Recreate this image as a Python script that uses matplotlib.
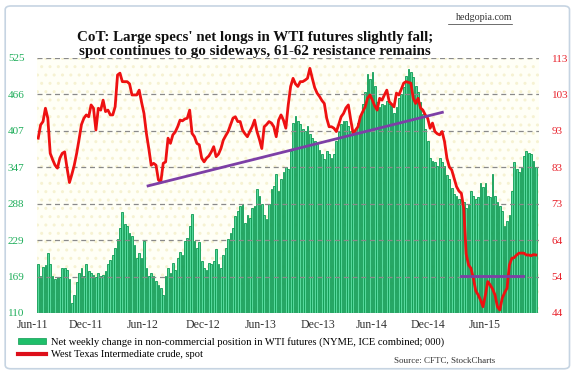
import numpy as np
import pandas as pd
import matplotlib
matplotlib.use("Agg")
import matplotlib.pyplot as plt
from matplotlib.patches import Patch, FancyBboxPatch, Rectangle
from matplotlib.lines import Line2D

# weekly CoT data, late Jun-2011 .. early Jun-2015
weeks = pd.date_range("2011-06-28", periods=208, freq="W-TUE")

# net non-commercial longs in WTI futures (000)
net_longs = [
    190, 171, 185, 188, 207, 190, 171, 165, 168, 168,
    183, 183, 180, 165, 126, 140, 160, 175, 183, 170,
    189, 178, 175, 172, 168, 175, 170, 172, 178, 190,
    197, 205, 215, 230, 249, 275, 255, 251, 240, 235,
    220, 200, 208, 200, 227, 183, 170, 175, 171, 162,
    156, 150, 140, 170, 183, 175, 192, 180, 200, 210,
    205, 227, 232, 251, 271, 227, 216, 225, 194, 183,
    180, 192, 190, 194, 214, 190, 183, 205, 216, 230,
    240, 249, 268, 276, 284, 287, 257, 270, 265, 281,
    284, 311, 300, 287, 270, 263, 287, 311, 317, 336,
    309, 328, 340, 347, 344, 374, 420, 431, 423, 417,
    410, 406, 414, 401, 395, 390, 385, 375, 368, 360,
    374, 368, 363, 368, 390, 405, 417, 423, 423, 415,
    406, 401, 406, 420, 434, 450, 470, 499, 491, 502,
    480, 453, 445, 450, 448, 455, 450, 448, 436, 445,
    460, 466, 477, 496, 507, 502, 494, 480, 470, 453,
    434, 410, 390, 363, 358, 355, 349, 363, 355, 349,
    335, 328, 314, 303, 300, 295, 295, 290, 281, 287,
    309, 300, 295, 298, 322, 315, 322, 300, 298, 336,
    300, 290, 284, 276, 251, 260, 270, 309, 355, 344,
    340, 347, 366, 374, 370, 368, 358, 347,
]

# WTI crude spot ($)
wti_spot = [
    91.3, 94.9, 95.8, 99.4, 96.7, 87.2, 85.5, 84.0, 83.2, 85.9,
    87.2, 87.6, 83.2, 79.3, 81.5, 84.0, 87.2, 91.0, 95.0, 96.7,
    97.6, 97.1, 100.3, 99.4, 93.5, 99.4, 98.9, 101.6, 98.5, 98.9,
    97.6, 97.6, 99.8, 108.4, 108.9, 106.6, 106.6, 106.6, 106.0, 103.0,
    103.0, 103.0, 104.3, 101.0, 98.0, 92.6, 88.5, 84.0, 84.5, 84.0,
    80.0, 79.5, 84.5, 84.9, 91.3, 89.9, 92.2, 93.0, 94.4, 96.2,
    96.0, 96.5, 96.7, 98.9, 92.6, 91.7, 89.9, 89.5, 85.9, 84.9,
    85.9, 86.5, 87.6, 89.0, 86.3, 87.0, 88.5, 90.8, 92.0, 93.1,
    94.9, 96.7, 97.1, 95.8, 95.8, 93.5, 92.5, 91.7, 93.1, 94.4,
    96.2, 93.1, 91.0, 88.5, 94.4, 95.0, 95.8, 95.4, 94.4, 91.7,
    96.2, 97.6, 96.2, 94.0, 100.3, 105.3, 107.5, 106.0, 105.3, 106.6,
    106.6, 107.0, 107.5, 110.2, 107.5, 105.0, 103.5, 102.6, 101.5, 100.7,
    96.7, 94.4, 94.4, 94.0, 93.1, 95.0, 97.1, 98.0, 99.5, 100.3,
    96.2, 92.6, 93.5, 94.4, 97.1, 98.5, 99.8, 102.1, 103.0, 101.6,
    100.0, 98.9, 102.1, 101.6, 103.0, 104.3, 101.2, 100.5, 99.8, 103.5,
    103.0, 104.5, 106.2, 106.6, 106.4, 106.2, 102.1, 100.7, 102.1, 99.5,
    98.9, 97.6, 96.7, 94.0, 95.4, 93.1, 92.5, 92.2, 93.1, 90.4,
    85.9, 83.5, 82.7, 80.4, 78.2, 77.0, 76.4, 72.3, 60.0, 57.0,
    56.1, 53.4, 50.0, 48.9, 47.5, 45.7, 48.9, 52.5, 51.6, 50.5,
    48.9, 45.7, 44.8, 48.0, 49.5, 50.7, 57.0, 58.8, 59.0, 59.7,
    60.2, 60.2, 60.2, 59.7, 59.7, 59.5, 59.8, 59.7,
]

# hand-drawn trend lines (week index, price)
support_weeks = [45.7, 168.1]
support_price = [78.4, 98.3]
resist_weeks = [176.0, 201.7]
resist_price = [54.0, 54.0]

left_ticks = ["110", "169", "229", "288", "347", "407", "466", "525"]
right_ticks = ["44", "54", "64", "73", "83", "93", "103", "113"]
x_labels = ["Jun-11", "Dec-11", "Jun-12", "Dec-12", "Jun-13",
            "Dec-13", "Jun-14", "Dec-14", "Jun-15"]
x_label_pos = [-2.2, 20.0, 43.5, 68.5, 92.5, 116.3, 138.8, 162.0, 185.8]

serif = ["Liberation Serif", "DejaVu Serif"]
green_txt = "#1fae5b"
red_txt = "#e8202a"

fig = plt.figure(figsize=(5.77, 3.74), dpi=100)
fig.patch.set_facecolor("white")
fig.patches.append(FancyBboxPatch((0.009, 0.014), 0.978, 0.97,
                                  boxstyle="round,pad=0,rounding_size=0.01",
                                  transform=fig.transFigure, fill=False,
                                  edgecolor="#c6d4e2", linewidth=1.2))

ax = fig.add_axes([37 / 577, 61 / 374, 502 / 577, 255 / 374])
ax.set_facecolor("#fffff6")
ax.add_patch(Rectangle((0, 0), 1, 1, transform=ax.transAxes, facecolor="none",
                       hatch="..", edgecolor="#f6f2d2", linewidth=0, zorder=0))

x = np.arange(len(weeks))
ax.bar(x, np.array(net_longs) - 110, bottom=110, width=0.72,
       color="#56d89c", edgecolor="#0d9a52", linewidth=0.6, zorder=1)
ax.set_xlim(-0.5, 208.3)
ax.set_ylim(110, 525)
ax.set_yticks(np.linspace(110, 525, 8))
ax.set_yticklabels(left_ticks, family=serif, fontsize=8, color=green_txt)
ax.set_xticks([])
ax.tick_params(axis="y", length=0, pad=9)
ax.set_axisbelow(False)
ax.yaxis.grid(True, color="#8a8a8a", linestyle=(0, (4, 3)), linewidth=0.9)
for s in ax.spines.values():
    s.set_visible(False)

for pos, lab in zip(x_label_pos, x_labels):
    ax.text(pos, -0.025, lab, transform=ax.get_xaxis_transform(),
            ha="center", va="top", family=serif, fontsize=8.5, color="#333333",
            clip_on=False)

ax2 = ax.twinx()
ax2.plot(x, wti_spot, color="#ee1111", linewidth=2, zorder=3)
ax2.plot(support_weeks, support_price, color="#7d3fa6", linewidth=2, zorder=4)
ax2.plot(resist_weeks, resist_price, color="#7d3fa6", linewidth=2, zorder=4)
ax2.set_ylim(44, 113)
ax2.set_yticks(np.linspace(44, 113, 8))
ax2.set_yticklabels(right_ticks, family=serif, fontsize=8, color=red_txt)
ax2.tick_params(axis="y", length=0, pad=9)
for s in ax2.spines.values():
    s.set_visible(False)

fig.text(0.442, 0.882, "CoT: Large specs' net longs in WTI futures slightly fall;\n"
         "spot continues to go sideways, 61-62 resistance remains",
         ha="center", va="center", family=serif, fontsize=10.8,
         fontweight="bold", linespacing=1.12, color="#111111")
fig.text(0.888, 0.953, "hedgopia.com", ha="right", va="center", family=serif,
         fontsize=7.2, color="#333333")
fig.add_artist(Line2D([0.777, 0.888], [0.937, 0.937], color="#333333",
                      linewidth=0.5, transform=fig.transFigure))

handles = [Patch(facecolor="#1fbf6a", edgecolor="#0d9a52", linewidth=0.5),
           Line2D([0], [0], color="#dd0f1a", linewidth=3)]
fig.legend(handles, ["Net weekly change in non-commercial position in WTI futures "
                     "(NYME, ICE combined; 000)",
                     "West Texas Intermediate crude, spot"],
           loc="upper left", bbox_to_anchor=(0.031, 0.098), frameon=False,
           prop={"family": serif, "size": 7.6}, handlelength=2.7,
           handleheight=0.5, handletextpad=0.4, labelspacing=0.3,
           borderpad=0, borderaxespad=0)
fig.text(0.858, 0.035, "Source: CFTC, StockCharts", ha="right", va="center",
         family=serif, fontsize=6.5, color="#333333")

fig.savefig("out.png", dpi=100)
